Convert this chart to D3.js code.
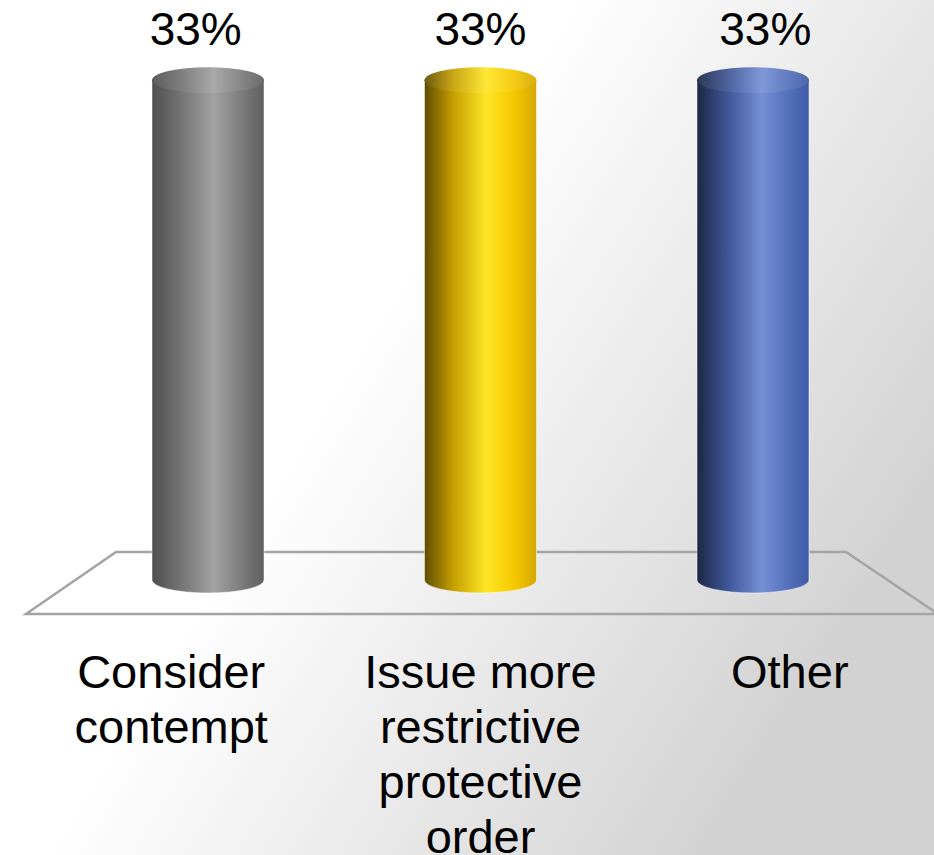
<!DOCTYPE html>
<html>
<head>
<meta charset="utf-8">
<script src="https://cdn.jsdelivr.net/npm/d3@7"></script>
<style>
  html, body { margin: 0; padding: 0; background: #fff; }
  svg { display: block; }
</style>
</head>
<body>
<script>
// Chart data
const categories = ["Consider contempt", "Issue more restrictive protective order", "Other"];
const categoryLines = [["Consider", "contempt"], ["Issue more", "restrictive", "protective", "order"], ["Other"]];
const values = [0.33, 0.33, 0.33];
const valueLabels = ["33%", "33%", "33%"];

// Cylinder colour ramps (left edge → highlight → right edge)
const ramps = [
  [["0%", "#4e4e4e"], ["30%", "#7a7a7a"], ["55%", "#a2a2a2"], ["80%", "#7c7c7c"], ["100%", "#5e5e5e"]],
  [["0%", "#5e4d00"], ["25%", "#c49d00"], ["55%", "#ffe625"], ["80%", "#f5c800"], ["100%", "#d4a800"]],
  [["0%", "#1c2745"], ["28%", "#3f5798"], ["58%", "#7690d6"], ["82%", "#5470bb"], ["100%", "#3f5aa6"]]
];

const W = 934, H = 855;
const svg = d3.select("body").append("svg").attr("width", W).attr("height", H);
const defs = svg.append("defs");

// Background wash
const bg = defs.append("linearGradient").attr("id", "bg")
  .attr("gradientUnits", "userSpaceOnUse")
  .attr("x1", 450).attr("y1", 200).attr("x2", 934).attr("y2", 500);
bg.append("stop").attr("offset", "0%").attr("stop-color", "#ffffff");
bg.append("stop").attr("offset", "100%").attr("stop-color", "#d2d2d2");
svg.append("rect").attr("width", W).attr("height", H).attr("fill", "url(#bg)");

// Scales
const x = d3.scalePoint().domain(categories).range([208, 753]);
const floorY = 580;
const y = d3.scaleLinear().domain([0, 0.35]).range([floorY, 50]);
const rx = 56, ry = 13;
const midX = (x.range()[0] + x.range()[1]) / 2;

// Floor plane
const floor = [[116, 552], [846, 552], [938, 614], [26, 614]];
svg.append("path")
  .attr("d", d3.line()(floor) + "Z")
  .attr("fill", "none")
  .attr("stroke", "#a4a4a4")
  .attr("stroke-width", 2.5);

// Gradients per cylinder
ramps.forEach((r, i) => {
  const g = defs.append("linearGradient").attr("id", "cyl" + i)
    .attr("x1", "0%").attr("x2", "100%").attr("y1", "0%").attr("y2", "0%");
  r.forEach(([o, c]) => g.append("stop").attr("offset", o).attr("stop-color", c));
});

const bars = svg.append("g").selectAll("g").data(categories).join("g");

bars.each(function(d, i) {
  const g = d3.select(this);
  const cx = x(d);
  const top = y(values[i]);
  const bottom = y(0);
  const body = `M${cx - rx},${top} L${cx - rx},${bottom} A${rx},${ry} 0 0 0 ${cx + rx},${bottom} L${cx + rx},${top} Z`;
  g.append("path").attr("d", body).attr("fill", `url(#cyl${i})`)
    .attr("stroke", "rgba(255,255,255,0.5)").attr("stroke-width", 1);
  g.append("ellipse").attr("cx", cx).attr("cy", top).attr("rx", rx).attr("ry", ry)
    .attr("fill", `url(#cyl${i})`);
  g.append("ellipse").attr("cx", cx).attr("cy", top).attr("rx", rx).attr("ry", ry)
    .attr("fill", "rgba(255,255,255,0.08)");
});

// Value labels above each cylinder
svg.append("g").selectAll("text").data(categories).join("text")
  .attr("x", (d) => x(d) + (x(d) - midX) * 0.045)
  .attr("y", 45)
  .attr("text-anchor", "middle")
  .attr("font-family", "Liberation Sans, Arial, sans-serif")
  .attr("font-size", 46)
  .attr("fill", "#000")
  .text((d, i) => valueLabels[i]);

// Category labels below the floor
const catG = svg.append("g").selectAll("text").data(categories).join("text")
  .attr("text-anchor", "middle")
  .attr("font-family", "Liberation Sans, Arial, sans-serif")
  .attr("font-size", 47)
  .attr("fill", "#000");
catG.each(function(d, i) {
  const t = d3.select(this);
  const cx = x(d) + (x(d) - midX) * 0.135;
  categoryLines[i].forEach((line, k) => {
    t.append("tspan").attr("x", cx).attr("y", 688 + k * 55).text(line);
  });
});
</script>
</body>
</html>
